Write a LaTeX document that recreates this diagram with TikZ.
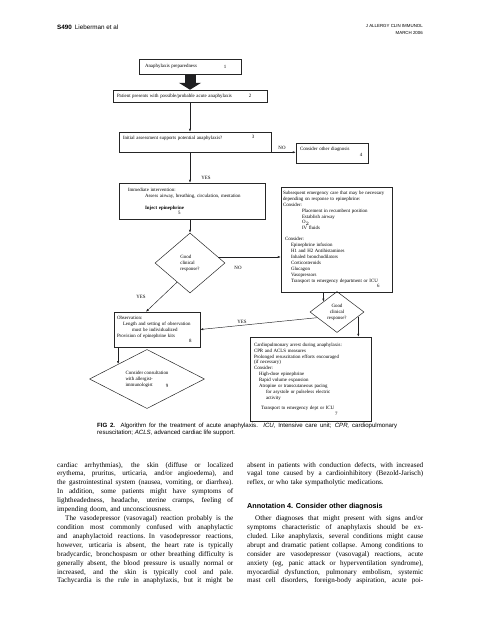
\documentclass[tikz,border=0pt]{standalone}
\usepackage{fontspec}
\setmainfont{Liberation Serif}
\setsansfont{Liberation Sans}
\usetikzlibrary{shapes,arrows.meta,calc,backgrounds}
\definecolor{ink}{rgb}{0.12,0.12,0.13}

\newcommand{\chartfont}{\fontsize{4.9}{5.9}\selectfont}
\newcommand{\bodyfont}{\fontsize{7.1}{8.92}\selectfont}
\newcommand{\capfont}{\sffamily\fontsize{6.1}{7}\selectfont}
\newcommand{\jline}[1]{\leavevmode\hbox to 176pt{\spaceskip=0.25em plus 2em minus 0.1em #1}}
\newcommand{\jind}[1]{\leavevmode\hbox to 176pt{\spaceskip=0.25em plus 2em minus 0.1em \hspace*{8pt}#1}}

\begin{document}
\begin{tikzpicture}[x=1pt,y=-1pt,
    >={Latex[length=3pt,width=2.2pt]},
    bigarrow/.style={-{Triangle[width=22pt,length=7pt]}, line width=11pt, draw=ink}]
  \tikzstyle{box}=[rectangle, draw=black!85, line width=0.5pt, inner sep=0pt, font=\chartfont, align=left]
  \tikzstyle{decision}=[diamond, draw=black!85, line width=0.5pt, inner sep=0pt, font=\chartfont, align=left]
  \tikzstyle{num}=[inner sep=0pt, font=\chartfont]
  \tikzstyle{lbl}=[inner sep=0pt, font=\chartfont]
  \tikzstyle{arr}=[->, line width=0.45pt, ink]
  \tikzstyle{body}=[inner sep=0pt, font=\bodyfont, text width=176pt, align=left, anchor=base west]

  \useasboundingbox (0,0) rectangle (478,640);

  % page head
  \node[anchor=base west, inner sep=0pt, font=\sffamily\fontsize{6.3}{7}\selectfont] (headl) at (57,29) {\textbf{S490}\hspace{3pt}Lieberman et al};
  \node[anchor=north east, inner sep=0pt, align=right, font=\sffamily\fontsize{4.4}{7}\selectfont] (headr) at (423,24) {J ALLERGY CLIN IMMUNOL\\MARCH 2006};

  % boxes
  \node[box, minimum width=102pt, minimum height=15pt, text width=90pt] (b1) at (190,66.5) {Anaphylaxis preparedness};
  \node[box, minimum width=154pt, minimum height=12pt, text width=146pt] (b2) at (190,96) {Patient presents with possible/probable acute anaphylaxis};
  \node[box, minimum width=152pt, minimum height=20pt, text width=144pt] (b3) at (195,142) {Initial assessment supports potential anaphylaxis?\\[2pt]~};
  \node[box, minimum width=72pt, minimum height=20pt, text width=64pt] (b4) at (332,153) {Consider other diagnosis\\[2pt]~};
  \node[box, minimum width=146pt, minimum height=36pt, text width=128pt] (b5) at (192,201) {Immediate intervention:\\
    \hspace*{17pt}Assess airway, breathing, circulation, mentation\\[6pt]
    \hspace*{17pt}\textbf{Inject epinephrine}\\[-1pt]
    \hspace*{50pt}5};
  \node[box, minimum width=111pt, minimum height=105pt, text width=107pt] (b6) at (336.5,239.5) {\mbox{Subsequent emergency care that may be necessary}\\
    depending on response to epinephrine:\\
    Consider:\\
    \hspace*{19pt}Placement in recumbent position\\
    \hspace*{19pt}Establish airway\\
    \hspace*{19pt}O$_2$\\
    \hspace*{19pt}IV fluids\\[5pt]
    \hspace*{2pt}Consider:\\
    \hspace*{8pt}Epinephrine infusion\\
    \hspace*{8pt}H1 and H2 Antihistamines\\
    \hspace*{8pt}Inhaled bronchodilators\\
    \hspace*{8pt}Corticosteroids\\
    \hspace*{8pt}Glucagon\\
    \hspace*{8pt}Vasopressors\\
    \hspace*{8pt}Transport to emergency department or ICU\\
    \hspace*{94pt}6};
  \node[box, minimum width=121pt, minimum height=84pt, text width=113pt] (b7) at (310.5,379) {Cardiopulmonary arrest during anaphylaxis:\\
    CPR and ACLS measures\\
    Prolonged resuscitation efforts encouraged\\
    (if necessary)\\
    Consider:\\
    \hspace*{5pt}High-dose epinephrine\\
    \hspace*{5pt}Rapid volume expansion\\
    \hspace*{5pt}Atropine or transcutaneous pacing\\
    \hspace*{12pt}for asystole or pulseless electric\\
    \hspace*{12pt}activity\\[4pt]
    \hspace*{7pt}Transport to emergency dept or ICU\\
    \hspace*{81pt}7};
  \node[box, minimum width=86pt, minimum height=35pt, text width=80pt] (b8) at (157,329.5) {Observation:\\
    \hspace*{6pt}Length and setting of observation\\
    \hspace*{15pt}must be individualized\\
    Provision of epinephrine kits\\
    \hspace*{72pt}8};

  % decisions
  \node[decision, minimum width=70pt, minimum height=60pt] (d1) at (190,263) {Good\\clinical\\response?};
  \node[decision, minimum width=54pt, minimum height=41pt, align=center] (d2) at (337,312) {Good\\clinical\\response?};
  \node[decision, minimum width=115pt, minimum height=54pt] (d3) at (147,379) {Consider consultation\\with allergist-\\immunologist};

  % numbers
  \node[num] (n1) at (225,66.5) {1};
  \node[num] (n2) at (250,96) {2};
  \node[num] (n3) at (253,137) {3};
  \node[num] (n4) at (361,155) {4};
  \node[num] (n9) at (167,386) {9};

  % connectors
  \begin{scope}[on background layer]
    \draw[bigarrow] (b1.south) -- (b2.north);
    \draw[arr] (b2.south) -- (b2.south |- b3.north);
    \draw[arr] (b3.south east) -- (b3.south east -| b4.west);
    \draw[arr] (b2.south |- b3.south) -- (b2.south |- b5.north);
    \draw[arr] (b5.south -| d1.north) -- (d1.north);
    \draw[arr] (d1.12) -- (d1.12 -| b6.west);
    \draw[arr] (d1.-124) -- ([xshift=-11pt]b8.north);
    \draw[arr] (b6.south -| d2.north west) -- (d2.north west);
    \draw[arr] (d2.-12) -- (d2.-12 |- b7.north);
    \draw[arr] (d2.-164) -- (b8.east);
    \draw[arr] (b8.south -| d3.north west) -- (d3.north west);
  \end{scope}

  % yes / no
  \node[lbl] (no1) at (282,148) {NO};
  \node[lbl] (yes1) at (206,178) {YES};
  \node[lbl] (no2) at (238,268) {NO};
  \node[lbl] (yes2) at (141,297) {YES};
  \node[lbl] (yes3) at (242,322) {YES};

  % caption
  \node[anchor=base west, inner sep=0pt, align=left, font=\capfont] (cap) at (97,434) {\makebox[300pt][s]{\textbf{FIG 2.} Algorithm for the treatment of acute anaphylaxis. \textit{ICU,} Intensive care unit; \textit{CPR,} cardiopulmonary}\\
    resuscitation; \textit{ACLS,} advanced cardiac life support.};

  % text columns
  \node[body] (p1) at (57,467) {\jline{cardiac arrhythmias), the skin (diffuse or localized}\\
    \jline{erythema, pruritus, urticaria, and/or angioedema), and}\\
    \jline{the gastrointestinal system (nausea, vomiting, or diarrhea).}\\
    \jline{In addition, some patients might have symptoms of}\\
    \jline{lightheadedness, headache, uterine cramps, feeling of}\\
    impending doom, and unconsciousness.};
  \node[body] (p2) at (57,520.5) {\jind{The vasodepressor (vasovagal) reaction probably is the}\\
    \jline{condition most commonly confused with anaphylactic}\\
    \jline{and anaphylactoid reactions. In vasodepressor reactions,}\\
    \jline{however, urticaria is absent, the heart rate is typically}\\
    \jline{bradycardic, bronchospasm or other breathing difficulty is}\\
    \jline{generally absent, the blood pressure is usually normal or}\\
    \jline{increased, and the skin is typically cool and pale.}\\
    \jline{Tachycardia is the rule in anaphylaxis, but it might be}};
  \node[body] (p3) at (247,467) {\jline{absent in patients with conduction defects, with increased}\\
    \jline{vagal tone caused by a cardioinhibitory (Bezold-Jarisch)}\\
    reflex, or who take sympatholytic medications.};
  \node[anchor=base west, inner sep=0pt, font=\sffamily\bfseries\fontsize{7.2}{9}\selectfont] (ann) at (247,508.5) {Annotation 4. Consider other diagnosis};
  \node[body] (p4) at (247,520.5) {\jind{Other diagnoses that might present with signs and/or}\\
    \jline{symptoms characteristic of anaphylaxis should be ex-}\\
    \jline{cluded. Like anaphylaxis, several conditions might cause}\\
    \jline{abrupt and dramatic patient collapse. Among conditions to}\\
    \jline{consider are vasodepressor (vasovagal) reactions, acute}\\
    \jline{anxiety (eg, panic attack or hyperventilation syndrome),}\\
    \jline{myocardial dysfunction, pulmonary embolism, systemic}\\
    \jline{mast cell disorders, foreign-body aspiration, acute poi-}};
\end{tikzpicture}
\end{document}
